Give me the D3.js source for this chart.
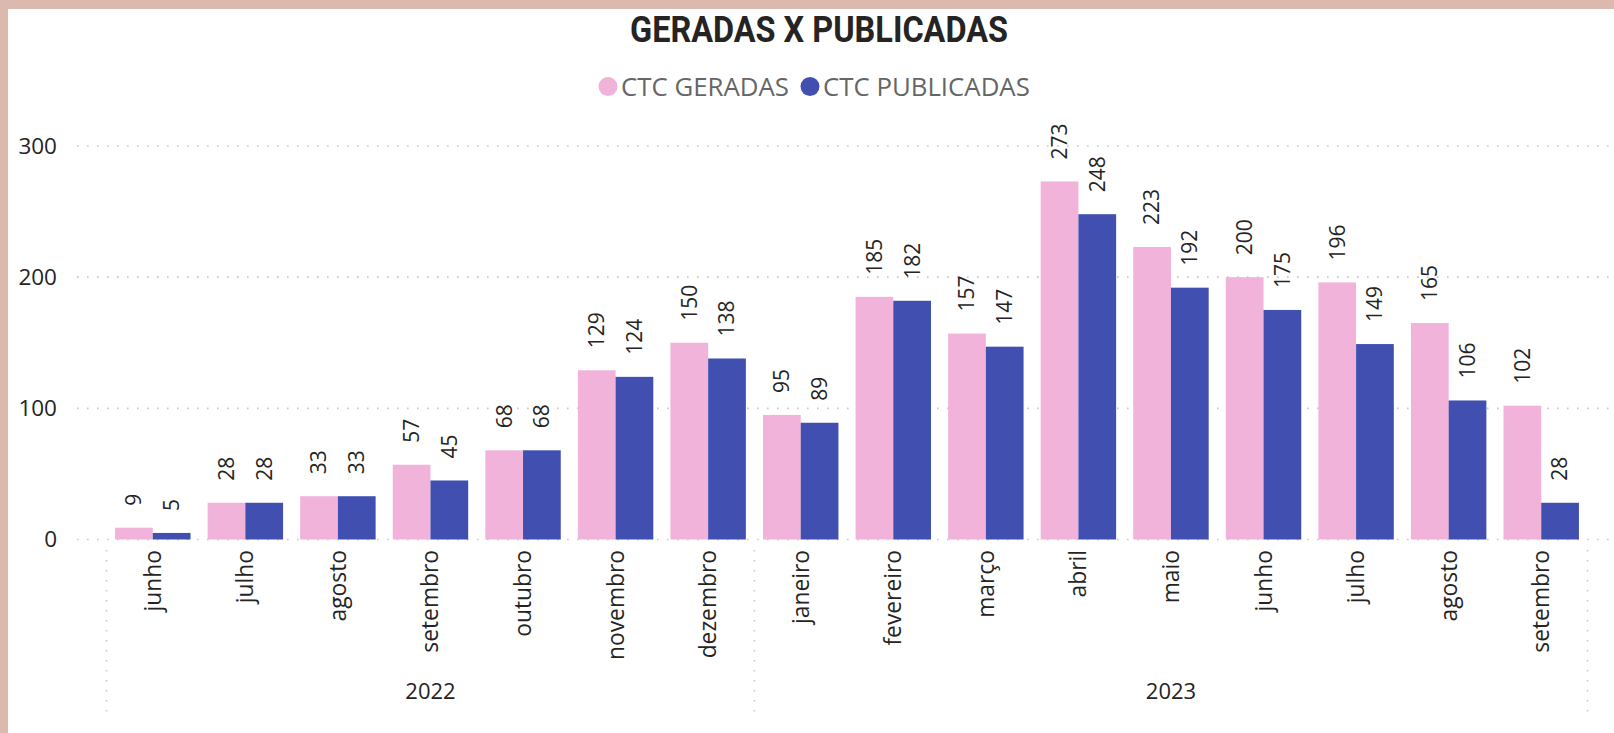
<!DOCTYPE html>
<html>
<head>
<meta charset="utf-8">
<script src="https://cdn.jsdelivr.net/npm/d3@7"></script>
<style>
  html, body { margin: 0; padding: 0; background: #fff; }
  svg { display: block; font-family: "Segoe UI", "Open Sans", "Noto Sans", sans-serif; }
</style>
</head>
<body>
<div id="chart"></div>
<script>
// categories
const months = ["junho", "julho", "agosto", "setembro", "outubro", "novembro", "dezembro",
  "janeiro", "fevereiro", "março", "abril", "maio", "junho", "julho", "agosto", "setembro"];
const monthYears = ["2022", "2022", "2022", "2022", "2022", "2022", "2022",
  "2023", "2023", "2023", "2023", "2023", "2023", "2023", "2023", "2023"];
const years = ["2022", "2023"];

// series
const seriesNames = ["CTC GERADAS", "CTC PUBLICADAS"];
const geradas = [9, 28, 33, 57, 68, 129, 150, 95, 185, 157, 273, 223, 200, 196, 165, 102];
const publicadas = [5, 28, 33, 45, 68, 124, 138, 89, 182, 147, 248, 192, 175, 149, 106, 28];
const yTicks = [0, 100, 200, 300];

const colors = ["#F1B3DA", "#4150B0"];
const width = 1614, height = 733;

const svg = d3.select("#chart").append("svg")
    .attr("width", width)
    .attr("height", height);

svg.append("rect").attr("width", width).attr("height", height).attr("fill", "#fff");
// frame of the report page
svg.append("rect").attr("x", 0).attr("y", 0).attr("width", width).attr("height", 9).attr("fill", "#DCB9AF");
svg.append("rect").attr("x", 0).attr("y", 0).attr("width", 8).attr("height", height).attr("fill", "#DCB9AF");

// title
svg.append("text")
    .attr("x", 819).attr("y", 41.5)
    .attr("text-anchor", "middle")
    .attr("textLength", 378)
    .attr("lengthAdjust", "spacingAndGlyphs")
    .style("font-family", "Roboto, sans-serif")
    .style("font-weight", 700)
    .style("font-size", "37px")
    .attr("fill", "#252423")
    .text("GERADAS X PUBLICADAS");

// legend
const legendX = [608, 810];
seriesNames.forEach((name, i) => {
  svg.append("circle")
    .attr("cx", legendX[i]).attr("cy", 86.5).attr("r", 9.5)
    .attr("fill", colors[i]);
  svg.append("text")
    .attr("x", legendX[i] + 13).attr("y", 95.5)
    .attr("fill", "#666666")
    .style("font-size", "25.8px")
    .text(name);
});

// scales
const x = d3.scaleBand()
    .domain(d3.range(months.length))
    .range([106.5, 1587.5])
    .paddingInner(0.185)
    .paddingOuter(0.0925);

const xSub = d3.scaleBand()
    .domain([0, 1])
    .range([0, x.bandwidth()]);

const y = d3.scaleLinear()
    .domain([0, 300])
    .range([539.5, 146]);

// gridlines
const grid = svg.append("g");
grid.selectAll("line")
  .data(yTicks)
  .join("line")
    .attr("x1", 77).attr("x2", width)
    .attr("y1", d => y(d)).attr("y2", d => y(d))
    .attr("stroke", "#C8C8C8")
    .attr("stroke-width", 1.6)
    .attr("stroke-dasharray", "1.6 8.4");

// y axis labels
const yAxis = svg.append("g")
    .attr("transform", "translate(57,0)")
    .call(d3.axisLeft(y).tickValues(yTicks).tickSize(0).tickPadding(0));
yAxis.select(".domain").remove();
yAxis.selectAll("text")
    .style("font-family", "'Segoe UI', 'Open Sans', sans-serif")
    .style("font-size", "22.5px")
    .attr("fill", "#252423");

// bars
const seriesData = [geradas, publicadas];
const cats = svg.append("g").selectAll("g")
  .data(d3.range(months.length))
  .join("g")
    .attr("transform", i => `translate(${x(i)},0)`);

seriesData.forEach((vals, s) => {
  cats.append("rect")
    .attr("x", xSub(s))
    .attr("width", xSub.bandwidth())
    .attr("y", i => y(vals[i]))
    .attr("height", i => y(0) - y(vals[i]))
    .attr("fill", colors[s]);

  cats.append("text")
    .attr("transform", i => `translate(${xSub(s) + xSub.bandwidth() / 2},${y(vals[i]) - 22}) rotate(-90)`)
    .attr("dy", "0.35em")
    .attr("text-anchor", "start")
    .style("font-size", "21px")
    .attr("fill", "#252423")
    .text(i => vals[i]);
});

// month labels
svg.append("g").selectAll("text")
  .data(d3.range(months.length))
  .join("text")
    .attr("transform", i => `translate(${x(i) + x.bandwidth() / 2},550) rotate(-90)`)
    .attr("dy", "0.35em")
    .attr("text-anchor", "end")
    .style("font-size", "22.8px")
    .attr("fill", "#252423")
    .text(i => months[i]);

// year groups and separators
const step = x.step();
const bounds = [106.5];
years.forEach(yr => {
  const n = monthYears.filter(m => m === yr).length;
  bounds.push(bounds[bounds.length - 1] + n * step);
});

svg.append("g").selectAll("line")
  .data(bounds)
  .join("line")
    .attr("x1", d => d).attr("x2", d => d)
    .attr("y1", 550).attr("y2", 712)
    .attr("stroke", "#C8C8C8")
    .attr("stroke-width", 1.6)
    .attr("stroke-dasharray", "1.6 8.4");

svg.append("g").selectAll("text")
  .data(years)
  .join("text")
    .attr("x", (d, i) => (bounds[i] + bounds[i + 1]) / 2)
    .attr("y", 699)
    .attr("text-anchor", "middle")
    .style("font-size", "22px")
    .attr("fill", "#252423")
    .text(d => d);
</script>
</body>
</html>
